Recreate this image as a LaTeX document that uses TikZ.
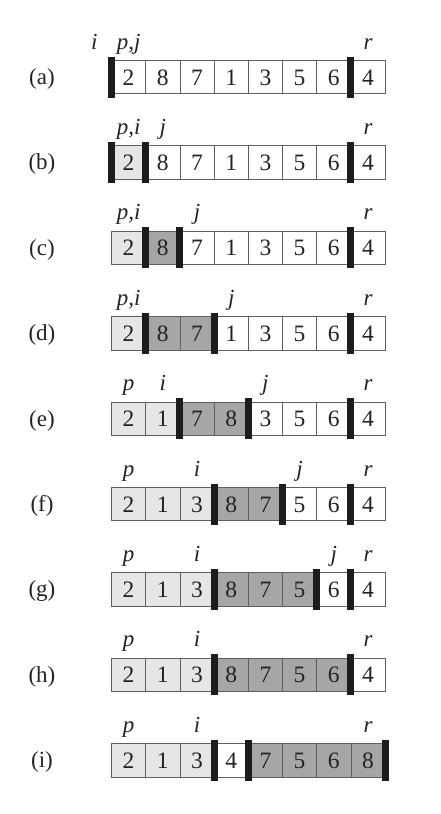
\documentclass[tikz,border=0pt]{standalone}
\usepackage{fontspec}
\setmainfont{Liberation Serif}
\definecolor{W}{RGB}{255,255,255}
\definecolor{L}{RGB}{230,230,230}
\definecolor{D}{RGB}{166,166,168}
\definecolor{edgec}{RGB}{95,95,95}
\definecolor{barc}{RGB}{28,28,28}
\definecolor{txt}{RGB}{35,35,35}
\tikzset{
  digit/.style={anchor=base,inner sep=0pt,text=txt,font=\fontsize{23.5}{26}\selectfont},
  idx/.style={anchor=base,inner sep=0pt,text=txt,font=\fontsize{23}{26}\selectfont\itshape},
  rowlab/.style={anchor=base,inner sep=0pt,text=txt,font=\fontsize{23}{26}\selectfont},
  cellbox/.style={draw=edgec,line width=0.8pt},
  barbox/.style={fill=barc}
}
% #1 row index, #2 label, #3 value/fill list, #4 bar boundaries, #5 index labels
\newcommand\partrow[5]{%
  \pgfmathsetmacro\yc{77+85.4*#1}
  \node[rowlab] (lab#1) at (42,\yc+7.5) {(#2)};
  \foreach \v/\f [count=\k] in {#3} {
    \pgfmathsetmacro\xl{111.5+34.2*(\k-1)}
    \draw[cellbox,fill=\f] (\xl,\yc-16.7) rectangle ++(34.2,33.4);
    \node[digit] (c#1-\k) at (\xl+17.1,\yc+8) {\v};
  }
  \foreach \b [count=\m] in {#4} {
    \fill[barbox] (111.5+34.2*\b-3.5,\yc-20.5) rectangle ++(7,41);
  }
  \foreach \p/\t [count=\n] in {#5} {
    \node[idx] (ix#1-\n) at (111.5+34.2*\p-17.1,\yc-28) {\t};
  }
}
\begin{document}
\begin{tikzpicture}[x=1pt,y=-1pt]
\useasboundingbox (0,0) rectangle (440,814);
\partrow{0}{a}{2/W,8/W,7/W,1/W,3/W,5/W,6/W,4/W}{0,7}{0/i,1/{p,j},8/r}
\partrow{1}{b}{2/L,8/W,7/W,1/W,3/W,5/W,6/W,4/W}{0,1,7}{1/{p,i},2/j,8/r}
\partrow{2}{c}{2/L,8/D,7/W,1/W,3/W,5/W,6/W,4/W}{1,2,7}{1/{p,i},3/j,8/r}
\partrow{3}{d}{2/L,8/D,7/D,1/W,3/W,5/W,6/W,4/W}{1,3,7}{1/{p,i},4/j,8/r}
\partrow{4}{e}{2/L,1/L,7/D,8/D,3/W,5/W,6/W,4/W}{2,4,7}{1/p,2/i,5/j,8/r}
\partrow{5}{f}{2/L,1/L,3/L,8/D,7/D,5/W,6/W,4/W}{3,5,7}{1/p,3/i,6/j,8/r}
\partrow{6}{g}{2/L,1/L,3/L,8/D,7/D,5/D,6/W,4/W}{3,6,7}{1/p,3/i,7/j,8/r}
\partrow{7}{h}{2/L,1/L,3/L,8/D,7/D,5/D,6/D,4/W}{3,7}{1/p,3/i,8/r}
\partrow{8}{i}{2/L,1/L,3/L,4/W,7/D,5/D,6/D,8/D}{3,4,8}{1/p,3/i,8/r}
\end{tikzpicture}
\end{document}
